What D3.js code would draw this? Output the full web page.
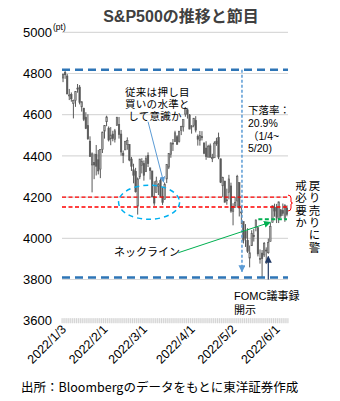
<!DOCTYPE html>
<html><head><meta charset="utf-8">
<script src="https://cdn.jsdelivr.net/npm/d3@7"></script>
<style>
html,body{margin:0;padding:0;background:#fff;}
svg{display:block;font-family:"Liberation Sans","Noto Sans CJK JP",sans-serif;}
</style></head>
<body>
<script>
// ---- data ----
const dates = ["1/3","1/4","1/5","1/6","1/7","1/10","1/11","1/12","1/13","1/14","1/18","1/19","1/20","1/21","1/24","1/25","1/26","1/27","1/28","1/31",
"2/1","2/2","2/3","2/4","2/7","2/8","2/9","2/10","2/11","2/14","2/15","2/16","2/17","2/18","2/22","2/23","2/24","2/25","2/28",
"3/1","3/2","3/3","3/4","3/7","3/8","3/9","3/10","3/11","3/14","3/15","3/16","3/17","3/18","3/21","3/22","3/23","3/24","3/25","3/28","3/29","3/30","3/31",
"4/1","4/4","4/5","4/6","4/7","4/8","4/11","4/12","4/13","4/14","4/18","4/19","4/20","4/21","4/22","4/25","4/26","4/27","4/28","4/29",
"5/2","5/3","5/4","5/5","5/6","5/9","5/10","5/11","5/12","5/13","5/16","5/17","5/18","5/19","5/20","5/23","5/24","5/25","5/26","5/27","5/31",
"6/1","6/2","6/3","6/6","6/7","6/8"];
const openV = [4778,4805,4788,4693,4698,4655,4669,4729,4734,4638,4632,4588,4547,4471,4356,4367,4408,4381,4336,4432,
4520,4566,4535,4483,4506,4480,4547,4553,4506,4413,4429,4456,4456,4385,4333,4325,4156,4298,4354,
4363,4323,4401,4342,4327,4203,4223,4253,4280,4203,4189,4288,4345,4407,4462,4469,4493,4470,4523,4541,4603,4624,4599,
4540,4548,4572,4494,4475,4494,4463,4438,4394,4449,4386,4391,4472,4489,4386,4255,4278,4187,4223,4254,
4131,4160,4181,4270,4128,4081,4035,3990,3904,3964,4013,4052,4052,3899,3928,3919,3943,3930,3985,4077,4151,
4150,4095,4138,4135,4096,4147];
const highV = [4797,4819,4798,4725,4708,4673,4714,4749,4744,4665,4632,4612,4602,4495,4417,4411,4453,4429,4433,4517,
4550,4595,4543,4540,4522,4531,4590,4589,4526,4426,4473,4490,4456,4395,4362,4342,4295,4385,4389,
4378,4401,4417,4342,4327,4277,4299,4268,4291,4248,4271,4358,4413,4465,4482,4522,4501,4521,4546,4576,4637,4628,4603,
4549,4584,4593,4504,4521,4520,4464,4471,4454,4460,4410,4471,4488,4513,4386,4299,4278,4241,4308,4270,
4170,4200,4308,4270,4158,4081,4069,4049,3965,4039,4046,4091,4052,3946,3943,3982,3956,3999,4075,4158,4168,
4167,4178,4143,4169,4165,4160];
const lowV = [4758,4774,4699,4671,4663,4582,4638,4707,4650,4615,4569,4530,4478,4395,4223,4287,4305,4310,4292,4414,
4484,4544,4470,4452,4471,4465,4547,4484,4401,4365,4429,4430,4374,4327,4267,4222,4115,4287,4315,
4280,4323,4346,4285,4200,4158,4223,4210,4200,4162,4188,4268,4336,4391,4424,4469,4456,4465,4501,4518,4590,4581,4530,
4508,4539,4514,4450,4450,4475,4408,4381,4393,4395,4370,4391,4449,4384,4268,4201,4175,4163,4189,4124,
4063,4147,4149,4106,4068,3975,3958,3929,3859,3964,3984,4034,3912,3877,3810,3909,3875,3925,3985,4077,4105,
4074,4074,4099,4109,4080,4107];
const closeV = [4797,4794,4701,4696,4677,4670,4713,4726,4659,4663,4577,4533,4483,4398,4410,4356,4350,4327,4432,4516,
4547,4589,4477,4501,4484,4522,4587,4504,4419,4402,4471,4475,4380,4349,4305,4226,4289,4385,4374,
4306,4387,4363,4329,4201,4171,4278,4260,4204,4173,4262,4358,4412,4463,4461,4512,4456,4520,4543,4576,4632,4602,4530,
4546,4583,4525,4481,4500,4488,4413,4397,4447,4393,4392,4462,4459,4394,4272,4296,4175,4184,4288,4132,
4155,4175,4300,4147,4123,3991,4001,3935,3930,4024,4008,4089,3924,3901,3901,3974,3941,3979,4058,4158,4132,
4101,4177,4109,4121,4161,4116];
const yTicks = [3600,3800,4000,4200,4400,4600,4800,5000];
const xTickDates = ["1/3","2/1","3/1","4/1","5/2","6/1"];
const xTickLabels = ["2022/1/3","2022/2/1","2022/3/1","2022/4/1","2022/5/2","2022/6/1"];
const supportLevels = [4818, 3810];       // blue dashed
const resistLevels = [4200, 4152];        // red dashed
const neckLevel = 4093;                   // green dashed

// ---- chart ----
const W = 340, H = 401;
const svg = d3.select("body").append("svg").attr("width", W).attr("height", H);
const L = 62, R = 288, T = 32.3, B = 320.7;
const y = d3.scaleLinear().domain([3600, 5000]).range([B, T]);
const x = d3.scaleBand().domain(dates).range([L, R]).paddingInner(0.3).paddingOuter(0.15);
const step = x.step();
const xc = i => x(dates[0]) + x.bandwidth() / 2 + i * step;   // fractional index -> px

// title
svg.append("text").attr("x", 181).attr("y", 22).attr("text-anchor", "middle")
  .attr("font-size", 16).attr("font-weight", "bold").attr("fill", "#404040")
  .text("S&P500の推移と節目");

// gridlines
svg.append("g").selectAll("line").data(yTicks.filter(v => v > 3600)).join("line")
  .attr("x1", L).attr("x2", R).attr("y1", d => y(d)).attr("y2", d => y(d))
  .attr("stroke", "#d9d9d9").attr("stroke-width", 1.2);

// y labels
svg.append("g").selectAll("text").data(yTicks).join("text")
  .attr("x", 52).attr("y", d => y(d)).attr("dy", "0.36em").attr("text-anchor", "end")
  .attr("font-size", 13).attr("fill", "#000").text(d => d);
svg.append("text").attr("x", 53).attr("y", 30).attr("font-size", 8.5).attr("fill", "#000").text("(pt)");

// baseline (hatched axis)
svg.append("rect").attr("x", L).attr("y", y(3600) - 2.5).attr("width", R - L).attr("height", 5).attr("fill", "#f0f0f0");
svg.append("g").selectAll("line").data(d3.range(dates.length + 1)).join("line")
  .attr("x1", i => L + x.paddingOuter() * step + i * step - step * 0.15)
  .attr("x2", i => L + x.paddingOuter() * step + i * step - step * 0.15)
  .attr("y1", y(3600) - 2.5).attr("y2", y(3600) + 2.5)
  .attr("stroke", "#d4d4d4").attr("stroke-width", 1);

// x tick labels
svg.append("g").selectAll("text").data(xTickDates).join("text")
  .attr("transform", (d, i) => `translate(${x(d) + x.bandwidth() / 2 + 4},${330}) rotate(-45)`)
  .attr("text-anchor", "end").attr("font-size", 12.5).attr("fill", "#000")
  .text((d, i) => xTickLabels[i]);

// candles
const cg = svg.append("g");
dates.forEach((d, i) => {
  const cx = x(d) + x.bandwidth() / 2;
  cg.append("line").attr("x1", cx).attr("x2", cx).attr("y1", y(highV[i])).attr("y2", y(lowV[i]))
    .attr("stroke", "#5a5a5a").attr("stroke-width", 1);
  const up = closeV[i] >= openV[i];
  cg.append("rect").attr("x", x(d)).attr("width", x.bandwidth())
    .attr("y", y(Math.max(openV[i], closeV[i])))
    .attr("height", Math.max(1, Math.abs(y(openV[i]) - y(closeV[i]))))
    .attr("fill", up ? "#a6a6a6" : "#595959").attr("stroke", "#595959").attr("stroke-width", 0.6);
});

// support lines (blue dashed)
svg.append("g").selectAll("line").data(supportLevels).join("line")
  .attr("x1", L).attr("x2", R).attr("y1", d => y(d)).attr("y2", d => y(d))
  .attr("stroke", "#2e75b6").attr("stroke-width", 2.6).attr("stroke-dasharray", "8,5");

// resistance lines (red dashed)
svg.append("g").selectAll("line").data(resistLevels).join("line")
  .attr("x1", L).attr("x2", R - 1).attr("y1", d => y(d)).attr("y2", d => y(d))
  .attr("stroke", "#ff0000").attr("stroke-width", 1.4).attr("stroke-dasharray", "4,2.5");
// red bracket
svg.append("path")
  .attr("d", `M${R},${y(resistLevels[0]) - 2} q3,0 3,3 v${(y(resistLevels[1]) - y(resistLevels[0])) / 2 - 1} l1.5,1 l-1.5,1 v${(y(resistLevels[1]) - y(resistLevels[0])) / 2 - 1} q0,3 -3,3`)
  .attr("fill", "none").attr("stroke", "#ff0000").attr("stroke-width", 1);

// neckline (green dashed)
svg.append("line").attr("x1", xc(94.2)).attr("x2", R - 1).attr("y1", y(neckLevel)).attr("y2", y(neckLevel))
  .attr("stroke", "#00b050").attr("stroke-width", 2).attr("stroke-dasharray", "4,2.5");

// markers
const defs = svg.append("defs");
function marker(id, color, size) {
  defs.append("marker").attr("id", id).attr("viewBox", "0 0 10 10").attr("refX", 9).attr("refY", 5)
    .attr("markerWidth", size).attr("markerHeight", size).attr("markerUnits", "userSpaceOnUse").attr("orient", "auto")
    .append("path").attr("d", "M0,0 L10,5 L0,10 z").attr("fill", color);
}
marker("mBlue", "#5b9bd5", 7);
marker("mNavy", "#1f3864", 7);
marker("mGreen", "#00b050", 7);
marker("mLB", "#5b9bd5", 6);

// decline vertical dotted arrow
svg.append("line").attr("x1", xc(86.3)).attr("x2", xc(86.3)).attr("y1", y(4818)).attr("y2", y(3838))
  .attr("stroke", "#5b9bd5").attr("stroke-width", 1.5).attr("stroke-dasharray", "3,2")
  .attr("marker-end", "url(#mBlue)");

// ellipse around prior support
svg.append("ellipse").attr("cx", xc(41.5)).attr("cy", y(4175)).attr("rx", 30.5).attr("ry", 17)
  .attr("fill", "none").attr("stroke", "#00b0f0").attr("stroke-width", 1.5).attr("stroke-dasharray", "5,4");

// arrow from annotation text
svg.append("line").attr("x1", xc(41)).attr("y1", y(4566)).attr("x2", xc(48.5)).attr("y2", y(4273))
  .attr("stroke", "#5b9bd5").attr("stroke-width", 1).attr("marker-end", "url(#mLB)");

// neckline arrow
svg.append("line").attr("x1", xc(55.6)).attr("y1", y(3930)).attr("x2", xc(100)).attr("y2", y(4078))
  .attr("stroke", "#00b050").attr("stroke-width", 1).attr("marker-end", "url(#mGreen)");

// FOMC arrow
svg.append("line").attr("x1", xc(99)).attr("x2", xc(99)).attr("y1", y(3800)).attr("y2", y(3912))
  .attr("stroke", "#1f3864").attr("stroke-width", 1.2).attr("marker-end", "url(#mNavy)");

// text annotations (multi-line as tspans in one text)
const ann = "'Liberation Sans','Noto Sans CJK JP',sans-serif";
const jp = "'Noto Sans CJK JP','Liberation Sans',sans-serif";
function lines(xp, y0, dy, arr, fs, ls) {
  const t = svg.append("text").attr("x", xp).attr("y", y0).attr("font-size", fs)
    .attr("letter-spacing", ls || 0).attr("font-family", ann).attr("fill", "#000");
  arr.forEach((s, i) => t.append("tspan").attr("x", xp).attr("dy", i === 0 ? 0 : dy).text(s));
}
lines(125, 96, 12.2, ["従来は押し目", "買いの水準と", " して意識か"], 10.5, 0.3);
lines(248, 114, 12.8, ["下落率：", "20.9%", "（1/4~", "5/20)"], 10.5);
lines(114, 256, 0, ["ネックライン"], 11);
lines(234, 300, 13.5, ["FOMC議事録", "開示"], 11);

// vertical text (two columns, read right to left)
function vcol(xp, y0, str) {
  svg.append("text").attr("x", xp).attr("y", y0)
    .style("writing-mode", "vertical-rl").style("text-orientation", "upright")
    .attr("letter-spacing", 0.8).attr("font-size", 11.5).attr("font-family", jp).attr("fill", "#000").text(str);
}
vcol(314.5, 180, "戻り売りに警");
vcol(301, 180, "戒必要か");

// source
svg.append("text").attr("x", 21).attr("y", 392).attr("font-size", 12.5).attr("font-family", jp)
  .attr("fill", "#000").text("出所：Bloombergのデータをもとに東洋証券作成");
</script>
</body></html>
